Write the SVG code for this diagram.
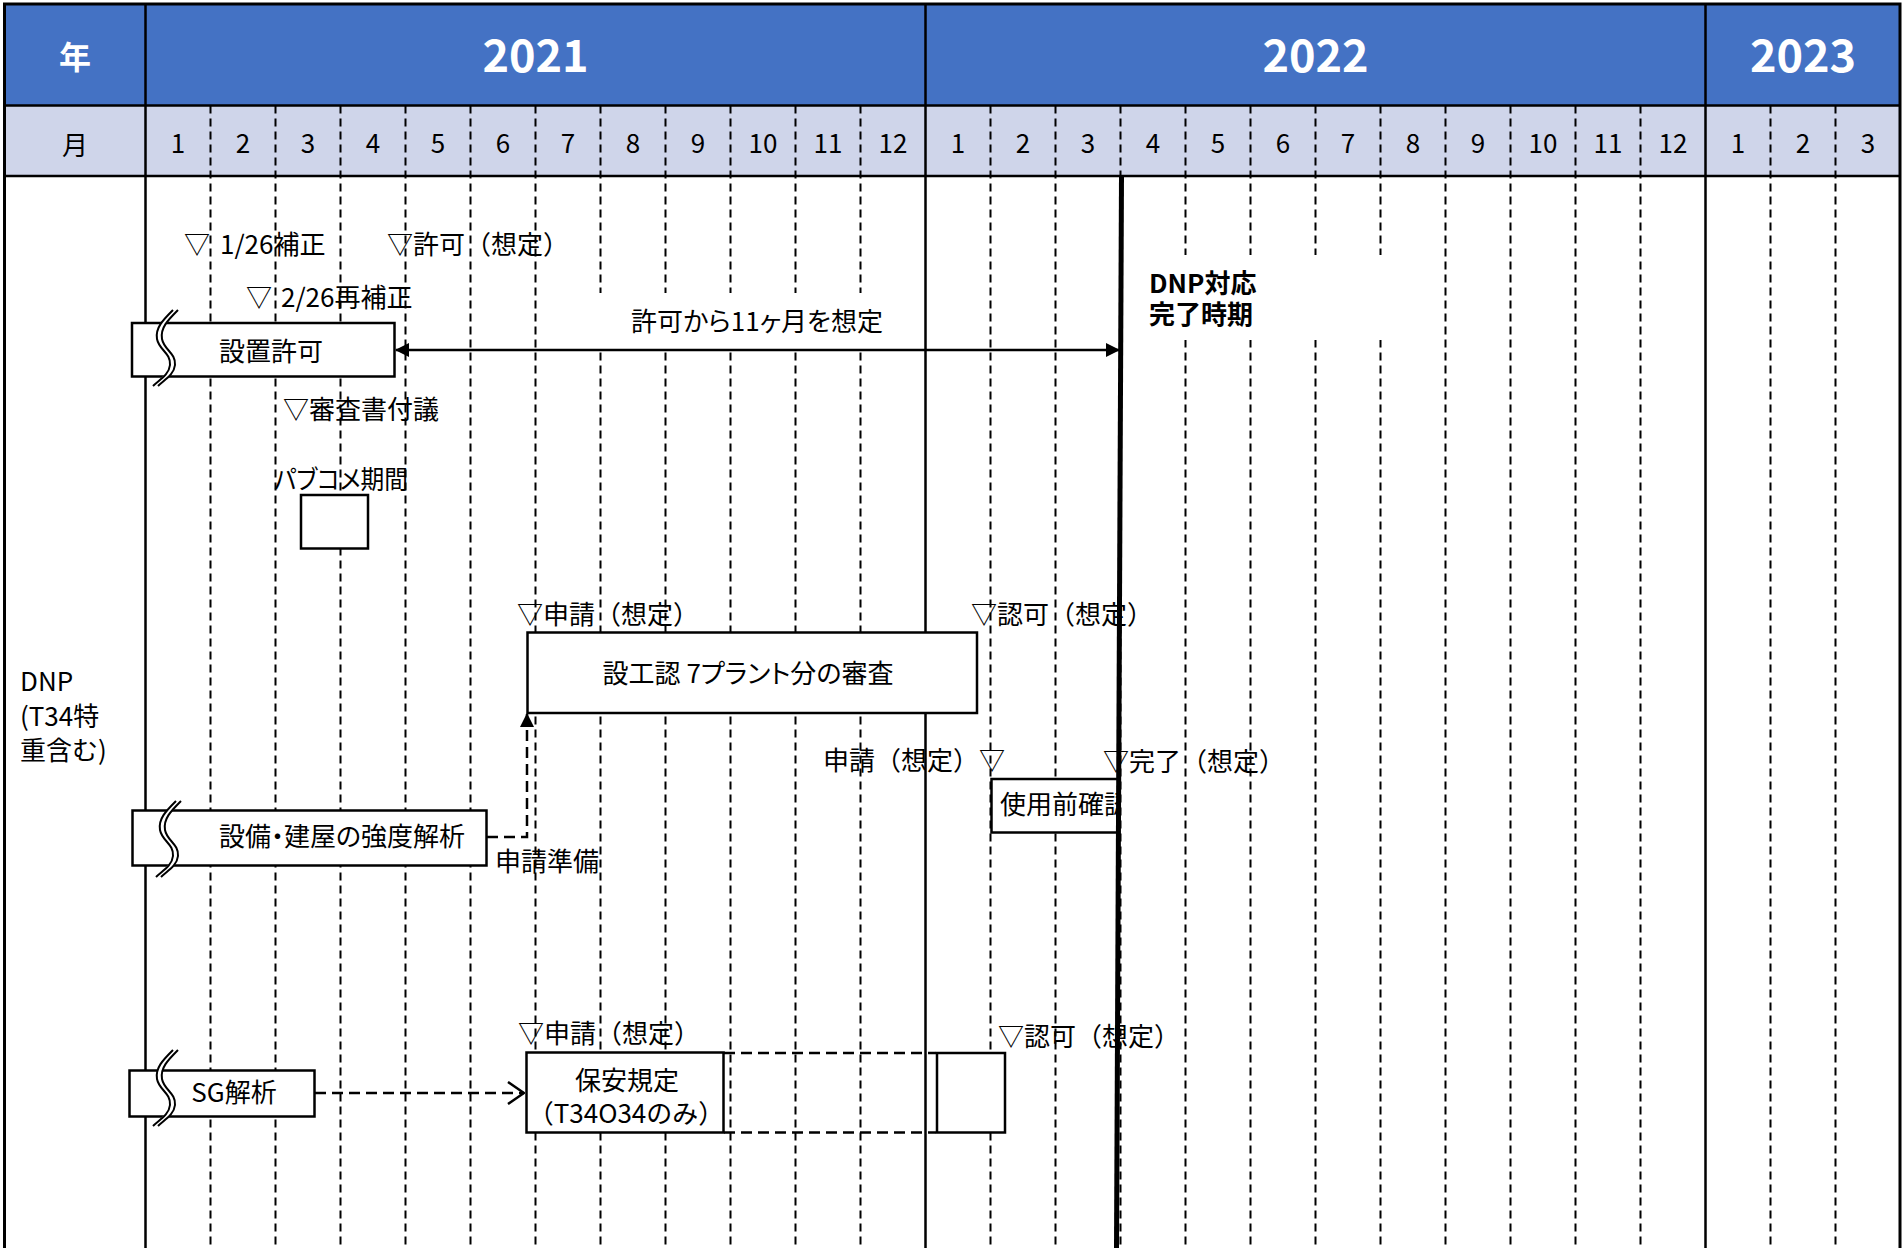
<svg xmlns="http://www.w3.org/2000/svg" width="1903" height="1248" viewBox="0 0 1903 1248">
<defs>
<style>
.t{font-family:"Noto Sans CJK JP","Noto Sans CJK SC",sans-serif;font-size:26px;fill:#000}
.p{font-feature-settings:"palt" 1}
.m{text-anchor:middle}
.hd{font-family:"Noto Sans CJK JP","Noto Sans CJK SC",sans-serif;font-weight:700;fill:#fff;text-anchor:middle}
.sol{stroke:#000;stroke-width:2.5;fill:none}
.dsh{stroke:#000;stroke-width:2;stroke-dasharray:8 5;fill:none}
.box{fill:#fff;stroke:#000;stroke-width:2.5}
.cn{stroke:#000;stroke-width:2.5;fill:none}
.cd{stroke-dasharray:11 6}
</style>
<marker id="ah" viewBox="0 0 14 14" refX="13" refY="7" markerWidth="14" markerHeight="14" markerUnits="userSpaceOnUse" orient="auto-start-reverse">
<path d="M0,0 L14,7 L0,14 z" fill="#000"/>
</marker>
<marker id="chev" viewBox="0 0 18 24" refX="17" refY="12" markerWidth="18" markerHeight="24" markerUnits="userSpaceOnUse" orient="auto">
<path d="M1,1 L17,12 L1,23" fill="none" stroke="#000" stroke-width="2.5"/>
</marker>
<g id="brk">
<path d="M22 0 C12 10,4 18,6 29 C8 40,20 43,19 55 C18 65,8 70,2 76" transform="translate(2.5,0)" fill="none" stroke="#fff" stroke-width="5"/>
<path d="M22 0 C12 10,4 18,6 29 C8 40,20 43,19 55 C18 65,8 70,2 76" fill="none" stroke="#000" stroke-width="2"/>
<path d="M22 0 C12 10,4 18,6 29 C8 40,20 43,19 55 C18 65,8 70,2 76" transform="translate(5,0)" fill="none" stroke="#000" stroke-width="2"/>
</g>
<clipPath id="clipUse"><rect x="991" y="779" width="127" height="54"/></clipPath>
</defs>

<rect x="0" y="0" width="1903" height="1248" fill="#fff"/>

<g id="header">
<rect x="4.5" y="4" width="1895.5" height="101.6" fill="#4472C4"/>
<rect x="4.5" y="105.6" width="1895.5" height="70.4" fill="#CFD5EA"/>
</g>

<g id="grid">
<path class="dsh" d="M210.5 105.6V1248M275.5 105.6V1248M340.5 105.6V1248M405.5 105.6V1248M470.5 105.6V1248M535.5 105.6V1248M600.5 105.6V1248M665.5 105.6V1248M730.5 105.6V1248M795.5 105.6V1248M860.5 105.6V1248M990.5 105.6V1248M1055.5 105.6V1248M1120.5 105.6V1248M1185.5 105.6V1248M1250.5 105.6V1248M1315.5 105.6V1248M1380.5 105.6V1248M1445.5 105.6V1248M1510.5 105.6V1248M1575.5 105.6V1248M1640.5 105.6V1248M1770.5 105.6V1248M1835.5 105.6V1248"/>
<rect x="548" y="293" width="362" height="56" fill="#fff"/>
<rect x="1130" y="255" width="290" height="85" fill="#fff"/>
<path class="sol" d="M145.5 4V1248M925.5 4V1248M1705.5 4V1248M4.5 105.6H1900M4.5 176H1900"/>
<path d="M4.5 1248V4H1900V1248" fill="none" stroke="#000" stroke-width="3"/>
</g>

<g id="labels">
<text class="hd" x="75" y="69" font-size="32">年</text>
<text class="hd" x="535.5" y="72" font-size="45">2021</text>
<text class="hd" x="1315.5" y="72" font-size="45">2022</text>
<text class="hd" x="1803" y="72" font-size="45">2023</text>
<text class="t m" x="75" y="155" font-size="37">月</text>
<g class="t m" font-size="30">
<text x="178" y="153">1</text><text x="243" y="153">2</text><text x="308" y="153">3</text><text x="373" y="153">4</text><text x="438" y="153">5</text><text x="503" y="153">6</text><text x="568" y="153">7</text><text x="633" y="153">8</text><text x="698" y="153">9</text><text x="763" y="153">10</text><text x="828" y="153">11</text><text x="893" y="153">12</text>
<text x="958" y="153">1</text><text x="1023" y="153">2</text><text x="1088" y="153">3</text><text x="1153" y="153">4</text><text x="1218" y="153">5</text><text x="1283" y="153">6</text><text x="1348" y="153">7</text><text x="1413" y="153">8</text><text x="1478" y="153">9</text><text x="1543" y="153">10</text><text x="1608" y="153">11</text><text x="1673" y="153">12</text>
<text x="1738" y="153">1</text><text x="1803" y="153">2</text><text x="1868" y="153">3</text>
</g>
<text class="t" x="20" y="691" font-size="30">DNP</text>
<text class="t" x="20" y="726" font-size="30">(T34特</text>
<text class="t" x="20" y="760" font-size="30">重含む)</text>
</g>

<g id="milestones">
<text class="t" x="184" y="254">▽<tspan x="220">1/26補正</tspan></text>
<text class="t" x="387" y="254">▽許可（想定）</text>
<text class="t" x="246" y="307">▽<tspan x="281">2/26再補正</tspan></text>
<text class="t" x="283" y="419">▽審査書付議</text>
<text class="t" x="517" y="624">▽申請（想定）</text>
<text class="t" x="971" y="624">▽認可（想定）</text>
<text class="t" x="823" y="770">申請（想定）▽</text>
<text class="t" x="1103" y="771">▽完了（想定）</text>
<text class="t" x="495" y="871">申請準備</text>
<text class="t" x="518" y="1043">▽申請（想定）</text>
<text class="t" x="998" y="1046">▽認可（想定）</text>
<text class="t p m" x="757" y="331">許可から11ヶ月を想定</text>
<text class="t" x="1149" y="293" font-size="28" font-weight="700">DNP対応</text>
<text class="t" x="1149" y="324" font-size="28" font-weight="700">完了時期</text>
</g>

<g id="node-setchi">
<rect class="box" x="132" y="323" width="262.5" height="53.5"/>
<use href="#brk" transform="translate(151,310)"/>
<text class="t m" x="271" y="361">設置許可</text>
</g>

<g id="node-pabukome">
<text class="t p" x="274" y="489" font-size="25" textLength="134" lengthAdjust="spacingAndGlyphs">パブコメ期間</text>
<rect class="box" x="301" y="495" width="67" height="53.5"/>
</g>

<g id="node-sekouninn">
<rect class="box" x="527.5" y="632.5" width="449.5" height="80.5"/>
<text class="t p m" x="748" y="683">設工認 7プラント分の審査</text>
</g>

<g id="node-shiyoumae">
<rect class="box" x="991.5" y="779" width="127" height="53.5"/>
<text class="t" x="1000" y="814" font-size="24" clip-path="url(#clipUse)">使用前確認</text>
</g>

<g id="node-kyoudo">
<rect class="box" x="132.5" y="810.5" width="354" height="55"/>
<use href="#brk" transform="translate(154,801)"/>
<text class="t p m" x="342" y="846">設備・建屋の強度解析</text>
</g>

<g id="node-sg">
<rect class="box" x="129.5" y="1070.5" width="185" height="46"/>
<use href="#brk" transform="translate(151,1050)"/>
<text class="t m" x="234" y="1102">SG解析</text>
</g>

<g id="node-hoan">
<rect class="box" x="526.5" y="1052.5" width="197" height="80"/>
<text class="t m" x="627" y="1090">保安規定</text>
<text class="t m" x="626" y="1123">（T34O34のみ）</text>
</g>

<g id="node-small">
<rect class="box" x="937" y="1053" width="68" height="79.5"/>
</g>

<g id="connectors">
<path class="cn" d="M396 350H1119" marker-start="url(#ah)" marker-end="url(#ah)"/>
<path class="cn cd" d="M487 837H527V714" marker-end="url(#ah)"/>
<path class="cn cd" d="M315 1093H524" marker-end="url(#chev)"/>
<path class="cn cd" d="M724 1053H936M724 1132.5H936"/>
</g>

<g id="completion-line">
<path d="M1121.5 176L1116.5 1248" stroke="#000" stroke-width="5" fill="none"/>
</g>
</svg>
